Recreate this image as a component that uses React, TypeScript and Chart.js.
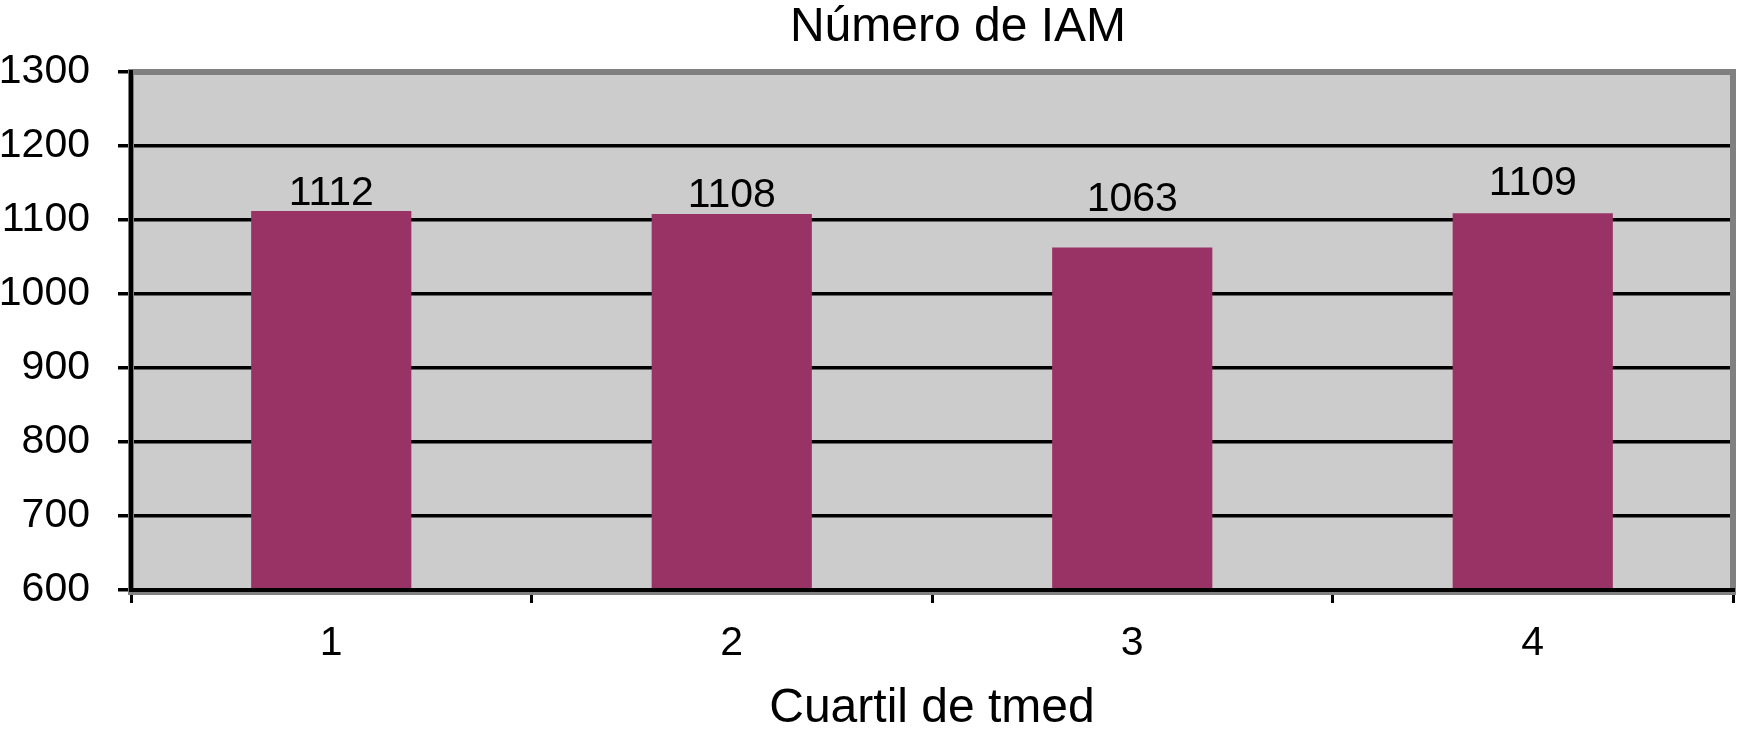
import React, { useEffect, useRef } from "react";
import { Chart, registerables } from "chart.js";

Chart.register(...registerables);

const categories = ["1", "2", "3", "4"];
const iamCounts = [1112, 1108, 1063, 1109];
const yMin = 600;
const yMax = 1300;
const yStep = 100;
const chartTitle = "Número de IAM";
const xAxisTitle = "Cuartil de tmed";

// style: vertical gap between bar top and its value label (px)
const labelGaps = [6, 7, 36, 18];

const FONT = "'Liberation Sans', Arial, Helvetica, sans-serif";

const plotFramePlugin = {
  id: "plotFrame",
  beforeDraw(chart: any) {
    const { ctx, chartArea } = chart;
    ctx.save();
    ctx.fillStyle = "#cccccc";
    ctx.fillRect(chartArea.left, chartArea.top, chartArea.right - chartArea.left, chartArea.bottom - chartArea.top);
    ctx.restore();
  },
  afterDatasetsDraw(chart: any) {
    const { ctx, chartArea } = chart;
    ctx.save();
    ctx.strokeStyle = "#808080";
    ctx.lineWidth = 6;
    ctx.strokeRect(chartArea.left, chartArea.top, chartArea.right - chartArea.left, chartArea.bottom - chartArea.top + 2);
    ctx.restore();
    // value labels
    const meta = chart.getDatasetMeta(0);
    ctx.save();
    ctx.fillStyle = "#000";
    ctx.font = `41px ${FONT}`;
    ctx.textAlign = "center";
    ctx.textBaseline = "alphabetic";
    meta.data.forEach((bar: any, i: number) => {
      const v = chart.data.datasets[0].data[i];
      ctx.fillText(String(v), bar.x, bar.y - labelGaps[i]);
    });
    ctx.restore();
  },
  afterDraw(chart: any) {
    const { ctx } = chart;
    ctx.save();
    ctx.fillStyle = "#000";
    ctx.font = `48px ${FONT}`;
    ctx.textAlign = "center";
    ctx.textBaseline = "middle";
    ctx.fillText(chartTitle, 958, 28);
    ctx.restore();
  },
};

export default function App() {
  const canvasRef = useRef<HTMLCanvasElement | null>(null);

  useEffect(() => {
    if (!canvasRef.current) return;
    Chart.defaults.font.family = FONT;
    Chart.defaults.color = "#000";
    const chart = new Chart(canvasRef.current, {
      type: "bar",
      data: {
        labels: categories,
        datasets: [
          {
            data: iamCounts,
            backgroundColor: "#993366",
            borderWidth: 0,
            categoryPercentage: 1,
            barPercentage: 0.4,
          },
        ],
      },
      options: {
        animation: false,
        responsive: false,
        layout: { padding: { left: 0, right: 10, top: 72, bottom: 0 } },
        plugins: {
          legend: { display: false },
          tooltip: { enabled: false },
          title: { display: false },
        },
        scales: {
          x: {
            offset: true,
            grid: {
              offset: true,
              drawOnChartArea: false,
              drawTicks: true,
              tickLength: 13,
              color: "#000",
              lineWidth: 3,
            },
            border: { display: true, color: "#000", width: 4, z: 1 },
            ticks: { font: { size: 41 }, color: "#000", padding: 16, maxRotation: 0, autoSkip: false },
            title: {
              display: true,
              text: xAxisTitle,
              color: "#000",
              font: { size: 48, lineHeight: 1 },
              padding: { top: 0, bottom: 17 },
            },
            afterFit(scale: any) {
              scale.height = 160;
            },
          },
          y: {
            min: yMin,
            max: yMax,
            grid: {
              color: "#000",
              lineWidth: 3.5,
              tickLength: 13,
              drawTicks: true,
            },
            border: { display: true, color: "#000", width: 4, z: 1 },
            ticks: {
              stepSize: yStep,
              font: { size: 41 },
              color: "#000",
              padding: 28,
              callback: (v: any) => String(v),
            },
            afterFit(scale: any) {
              scale.width = 131;
            },
          },
        },
      },
      plugins: [plotFramePlugin],
    } as any);
    return () => chart.destroy();
  }, []);

  return (
    <div style={{ position: "fixed", left: 0, top: 0, width: 1743, height: 750, background: "#fff" }}>
      <canvas ref={canvasRef} width={1743} height={750} style={{ display: "block" }} />
    </div>
  );
}
